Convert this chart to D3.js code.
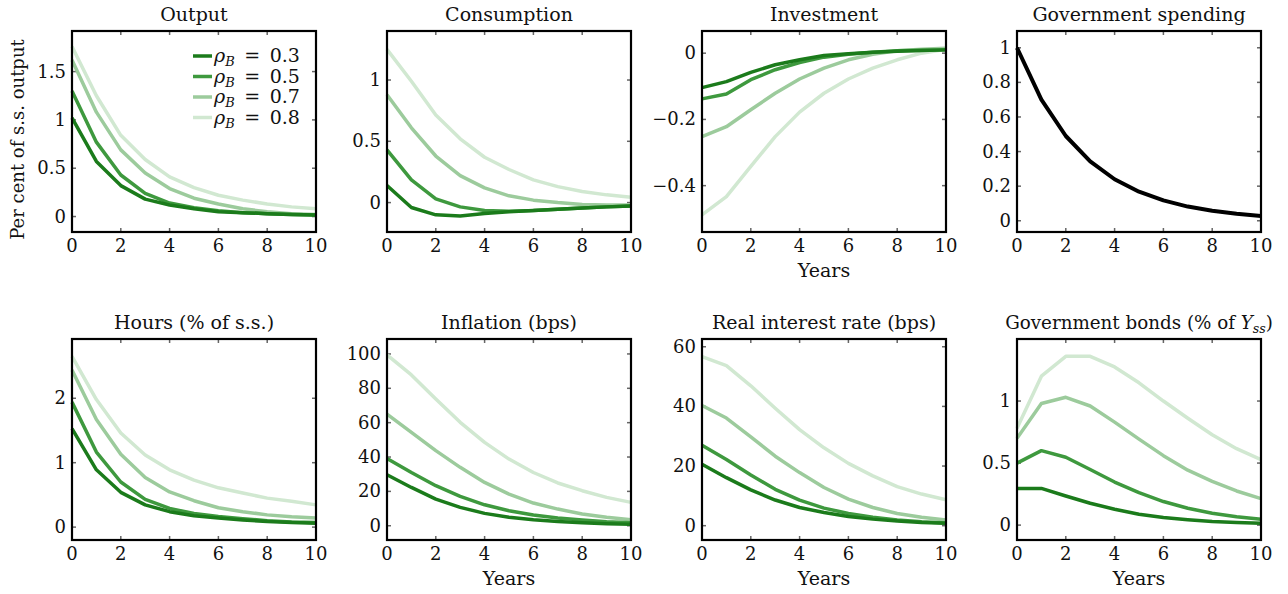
<!DOCTYPE html>
<html>
<head>
<meta charset="utf-8">
<script src="https://cdn.jsdelivr.net/npm/d3@7"></script>
<style>
body { margin: 0; background: #fff; }
svg text { font-family: "DejaVu Serif", serif; fill: #111; }
</style>
</head>
<body>
<svg width="1288" height="594"></svg>
<script>
var years = [0, 1, 2, 3, 4, 5, 6, 7, 8, 9, 10];
var rhoLabels = ["0.3", "0.5", "0.7", "0.8"];
var greens = ["#1b7b1b", "#3e993e", "#9ccb9c", "#d1e8d1"];

// one row per rho_B (0.3, 0.5, 0.7, 0.8)
var outputData = [
  [1.02, 0.57, 0.32, 0.18, 0.12, 0.08, 0.05, 0.04, 0.03, 0.02, 0.015],
  [1.30, 0.77, 0.43, 0.24, 0.14, 0.09, 0.06, 0.04, 0.03, 0.02, 0.015],
  [1.62, 1.08, 0.69, 0.45, 0.29, 0.19, 0.13, 0.08, 0.05, 0.03, 0.02],
  [1.76, 1.25, 0.84, 0.59, 0.41, 0.30, 0.22, 0.17, 0.13, 0.10, 0.08]
];
var consumptionData = [
  [0.14, -0.04, -0.10, -0.11, -0.09, -0.075, -0.065, -0.055, -0.045, -0.035, -0.027],
  [0.43, 0.185, 0.03, -0.035, -0.065, -0.07, -0.065, -0.055, -0.045, -0.035, -0.028],
  [0.88, 0.61, 0.38, 0.22, 0.12, 0.055, 0.02, 0.0, -0.015, -0.02, -0.02],
  [1.25, 0.99, 0.715, 0.52, 0.37, 0.27, 0.185, 0.13, 0.09, 0.063, 0.044]
];
var investmentData = [
  [-0.104, -0.086, -0.058, -0.035, -0.02, -0.007, -0.002, 0.003, 0.006, 0.008, 0.01],
  [-0.138, -0.123, -0.08, -0.05, -0.028, -0.012, -0.003, 0.003, 0.007, 0.009, 0.01],
  [-0.252, -0.222, -0.171, -0.121, -0.078, -0.045, -0.02, -0.003, 0.007, 0.012, 0.015],
  [-0.488, -0.433, -0.342, -0.252, -0.178, -0.121, -0.078, -0.045, -0.02, 0.0, 0.012]
];
var govSpendingData = [1.0, 0.70, 0.49, 0.343, 0.24, 0.168, 0.118, 0.082, 0.058, 0.04, 0.028];
var hoursData = [
  [1.53, 0.89, 0.54, 0.345, 0.24, 0.175, 0.14, 0.11, 0.088, 0.072, 0.06],
  [1.94, 1.165, 0.70, 0.43, 0.29, 0.21, 0.165, 0.13, 0.10, 0.08, 0.07],
  [2.44, 1.67, 1.13, 0.77, 0.546, 0.41, 0.30, 0.24, 0.19, 0.16, 0.14],
  [2.65, 1.98, 1.46, 1.12, 0.89, 0.73, 0.61, 0.53, 0.45, 0.40, 0.345]
];
var inflationData = [
  [29.7, 22.3, 15.5, 10.7, 7.2, 4.9, 3.5, 2.5, 1.7, 1.2, 0.8],
  [39.2, 31.0, 23.3, 17.1, 12.2, 8.7, 6.2, 4.5, 3.3, 2.3, 1.7],
  [65.0, 54.4, 43.7, 34.0, 25.2, 18.4, 13.2, 9.7, 6.8, 4.9, 3.5],
  [99.4, 87.8, 73.8, 60.2, 48.5, 38.8, 31.0, 24.9, 20.4, 16.5, 13.6]
];
var realRateData = [
  [20.6, 16.1, 12.0, 8.6, 6.1, 4.4, 3.1, 2.2, 1.6, 1.1, 0.8],
  [27.0, 22.2, 17.0, 12.2, 8.6, 5.9, 4.1, 2.8, 1.9, 1.3, 0.9],
  [40.3, 36.1, 29.8, 23.3, 17.8, 12.8, 8.9, 6.1, 4.1, 2.8, 1.9],
  [56.7, 53.7, 46.9, 39.4, 32.2, 26.1, 20.9, 16.7, 13.1, 10.6, 8.7]
];
var bondsData = [
  [0.296, 0.296, 0.235, 0.176, 0.128, 0.088, 0.061, 0.043, 0.029, 0.021, 0.016],
  [0.50, 0.60, 0.547, 0.448, 0.347, 0.261, 0.19, 0.136, 0.096, 0.067, 0.048],
  [0.70, 0.98, 1.03, 0.96, 0.83, 0.693, 0.56, 0.443, 0.352, 0.275, 0.213],
  [0.78, 1.20, 1.36, 1.36, 1.275, 1.147, 1.0, 0.861, 0.728, 0.616, 0.528]
];
var xTicks = [0, 2, 4, 6, 8, 10];

var panels = [
  { title: "Output", series: outputData, yDomain: [-0.16, 1.92], yTicks: [0, 0.5, 1, 1.5], col: 0, row: 0, xLabel: false },
  { title: "Consumption", series: consumptionData, yDomain: [-0.24, 1.40], yTicks: [0, 0.5, 1], col: 1, row: 0, xLabel: false },
  { title: "Investment", series: investmentData, yDomain: [-0.54, 0.067], yTicks: [-0.4, -0.2, 0], col: 2, row: 0, xLabel: true },
  { title: "Government spending", series: [govSpendingData], black: true, yDomain: [-0.065, 1.097], yTicks: [0, 0.2, 0.4, 0.6, 0.8, 1], col: 3, row: 0, xLabel: false },
  { title: "Hours (% of s.s.)", series: hoursData, yDomain: [-0.2, 2.92], yTicks: [0, 1, 2], col: 0, row: 1, xLabel: false },
  { title: "Inflation (bps)", series: inflationData, yDomain: [-8.3, 108.7], yTicks: [0, 20, 40, 60, 80, 100], col: 1, row: 1, xLabel: true },
  { title: "Real interest rate (bps)", series: realRateData, yDomain: [-4.8, 62.6], yTicks: [0, 20, 40, 60], col: 2, row: 1, xLabel: true },
  { title: "bonds", series: bondsData, yDomain: [-0.12, 1.50], yTicks: [0, 0.5, 1], col: 3, row: 1, xLabel: true }
];

var LEFTS = [72, 387, 702, 1017];
var TOPS = [31, 339];
var PW = 244, PH = 201;

var svg = d3.select("svg");
var fmt = d3.format("~g");

function drawPanel (p) {
  var x0 = LEFTS[p.col], y0 = TOPS[p.row];
  var g = svg.append("g").attr("transform", "translate(" + x0 + "," + y0 + ")");
  var x = d3.scaleLinear().domain([0, 10]).range([0, PW]);
  var y = d3.scaleLinear().domain(p.yDomain).range([PH, 0]);

  // inward ticks on all four sides
  var tickCol = "#666";
  g.selectAll(".xt").data(xTicks).enter().append("g").each(function (d) {
    var s = d3.select(this);
    s.append("line").attr("x1", x(d)).attr("x2", x(d)).attr("y1", PH).attr("y2", PH - 4)
      .attr("stroke", tickCol).attr("stroke-width", 1.5);
    s.append("line").attr("x1", x(d)).attr("x2", x(d)).attr("y1", 0).attr("y2", 4)
      .attr("stroke", tickCol).attr("stroke-width", 1.5);
    s.append("text").attr("x", x(d)).attr("y", PH + 20).attr("text-anchor", "middle")
      .attr("font-size", 18).text(fmt(d));
  });
  g.selectAll(".yt").data(p.yTicks).enter().append("g").each(function (d) {
    var s = d3.select(this);
    s.append("line").attr("x1", 0).attr("x2", 4).attr("y1", y(d)).attr("y2", y(d))
      .attr("stroke", tickCol).attr("stroke-width", 1.5);
    s.append("line").attr("x1", PW).attr("x2", PW - 4).attr("y1", y(d)).attr("y2", y(d))
      .attr("stroke", tickCol).attr("stroke-width", 1.5);
    s.append("text").attr("x", -6).attr("y", y(d) + 6).attr("text-anchor", "end")
      .attr("font-size", 18).text(fmt(d));
  });

  var line = d3.line().x(function (d, i) { return x(years[i]); }).y(function (d) { return y(d); });
  var order = p.series.map(function (s, i) { return i; }).reverse();
  order.forEach(function (i) {
    g.append("path").datum(p.series[i])
      .attr("d", line)
      .attr("fill", "none")
      .attr("stroke", p.black ? "#000" : greens[i])
      .attr("stroke-width", p.black ? 4 : 3.5)
      .attr("stroke-linejoin", "round");
  });

  g.append("rect").attr("width", PW).attr("height", PH)
    .attr("fill", "none").attr("stroke", "#000").attr("stroke-width", 2.2);

  var t = g.append("text").attr("x", PW / 2).attr("y", -10).attr("text-anchor", "middle")
    .attr("font-size", 19);
  if (p.title === "bonds") {
    t.attr("font-size", 18.3);
    t.append("tspan").text("Government bonds (% of ");
    t.append("tspan").attr("font-style", "italic").text("Y");
    t.append("tspan").attr("font-style", "italic").attr("font-size", 12.5).attr("dy", 4).text("ss");
    t.append("tspan").attr("dy", -4).text(")");
  } else {
    t.text(p.title);
  }

  if (p.xLabel) {
    g.append("text").attr("x", PW / 2).attr("y", PH + 45).attr("text-anchor", "middle")
      .attr("font-size", 19).text("Years");
  }
  return g;
}

var gOut;
panels.forEach(function (p, k) {
  var g = drawPanel(p);
  if (k === 0) gOut = g;
});

// legend in the Output panel
rhoLabels.forEach(function (lab, i) {
  var ly = 25 + i * 20.5;
  gOut.append("line").attr("x1", 121).attr("x2", 140).attr("y1", ly).attr("y2", ly)
    .attr("stroke", greens[i]).attr("stroke-width", 3.5);
  var t = gOut.append("text").attr("x", 142).attr("y", ly + 6).attr("font-size", 19);
  t.append("tspan").attr("font-style", "italic").text("ρ");
  t.append("tspan").attr("font-style", "italic").attr("font-size", 13).attr("dy", 4).text("B");
  t.append("tspan").attr("dy", -4).text("\u2002=\u20020" + lab.slice(1));
});

// shared y label
svg.append("text")
  .attr("transform", "translate(24," + (TOPS[0] + PH / 2 + 8) + ") rotate(-90)")
  .attr("text-anchor", "middle").attr("font-size", 18)
  .text("Per cent of s.s. output");
</script>
</body>
</html>
